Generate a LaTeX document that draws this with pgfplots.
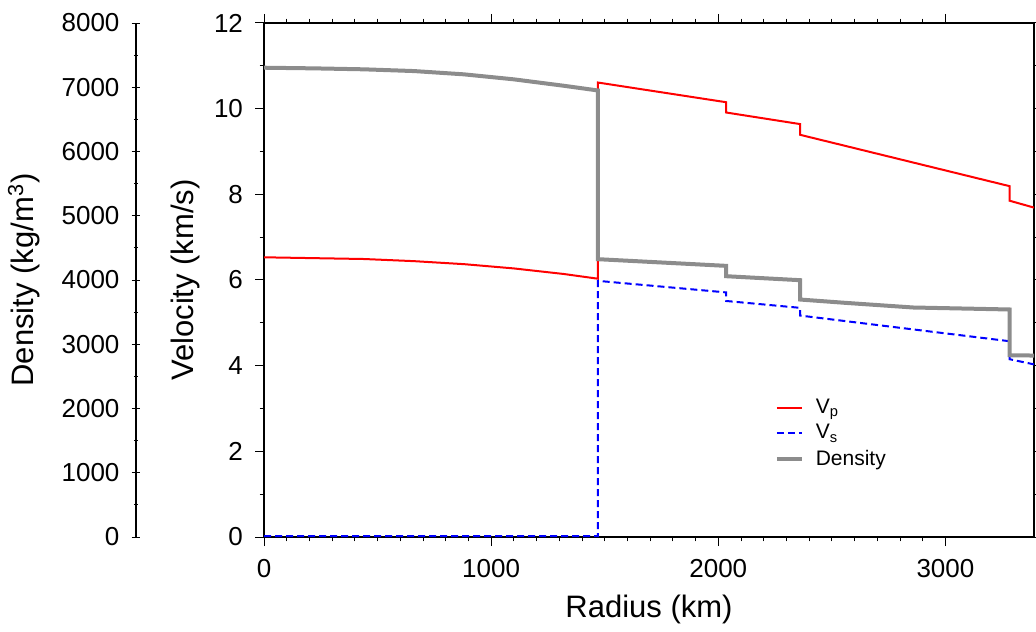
\documentclass[border=0pt]{standalone}
\usepackage{fontspec}
\setmainfont{Liberation Sans}
\usepackage{pgfplots}
\pgfplotsset{compat=1.18}
\definecolor{dgray}{RGB}{140,140,140}

\begin{document}
\begin{tikzpicture}
\useasboundingbox (0,0) rectangle (518pt,315.5pt);
\pgfplotsset{
 common/.style={scale only axis, height=257pt, ymin=0,
   tick label style={font=\fontsize{13}{15}\selectfont},
   yticklabel style={xshift=-2.5pt},
   xticklabel style={yshift=-3pt},
   /pgf/number format/assume math mode=true,
   /pgf/number format/1000 sep={},
   scaled ticks=false,
   major tick length=4.5pt, minor tick length=2.2pt,
   tick align=outside,
   every tick/.style={black, line width=0.5pt},
   axis line style={-, line width=0.6pt},
   label style={font=\fontsize{15.5}{18}\selectfont},
 }
}
% density tick axis
\begin{axis}[common, at={(68pt,47pt)}, anchor=south west, width=1pt,
  xmin=0, xmax=1, axis x line=none, axis y line=left,
  y axis line style={-},
  ymax=8000, ytick={0,1000,...,8000}, minor y tick num=1,
  ylabel={Density (kg/m\textsuperscript{3})},
  ylabel style={at={(rel axis cs:0,0.5)}, anchor=center, yshift=56pt}]
\end{axis}

% velocity axis
\begin{axis}[common, at={(132pt,47pt)}, anchor=south west, width=385pt,
  xmin=0, xmax=3390, ymax=12,
  xtick={0,1000,2000,3000}, minor x tick num=9,
  ytick={0,2,...,12}, minor y tick num=1,
  xlabel={Radius (km)}, ylabel={Velocity (km/s)},
  xlabel style={at={(rel axis cs:0.5,0)}, anchor=center, yshift=-36pt},
  ylabel style={at={(rel axis cs:0,0.5)}, anchor=center, yshift=39.5pt}]
\addplot[red, line width=1pt] coordinates {
 (0,6.53) (220,6.51) (440,6.49) (660,6.44) (880,6.37) (1100,6.27) (1320,6.14) (1470,6.03)
 (1470,10.61) (2035,10.15) (2035,9.91) (2360,9.64) (2360,9.39) (3283,8.19) (3283,7.85) (3390,7.69)
};
\addplot[blue, line width=1pt, dash pattern=on 3.5pt off 2pt] coordinates {
 (0,0.02) (1470,0.02) (1470,5.98) (2035,5.71) (2035,5.51) (2360,5.35) (2360,5.17) (3283,4.57) (3283,4.15) (3390,4.03)
};
\end{axis}

% density overlay
\begin{axis}[common, at={(132pt,47pt)}, anchor=south west, width=385pt,
  xmin=0, xmax=3390, ymax=8000, hide axis,
  legend image code/.code={\draw[#1] (0pt,0pt) -- (12.5pt,0pt);},
  legend cell align=left,
  legend style={draw=none, fill=none, at={(rel axis cs:0.655,0.285)}, anchor=north west,
    font=\fontsize{10.5}{12}\selectfont, row sep=0pt,
    /tikz/every odd column/.append style={column sep=4pt}}]
\addlegendimage{red, line width=1pt}
\addlegendentry{V\textsubscript{p}}
\addlegendimage{blue, line width=1pt, dash pattern=on 3.5pt off 2pt}
\addlegendentry{V\textsubscript{s}}
\addplot[dgray, line width=2pt] coordinates {
 (0,7304) (220,7294) (440,7279) (660,7252) (880,7201) (1100,7123) (1320,7023) (1470,6950)
 (1470,4324) (2035,4220) (2035,4059) (2360,3997) (2360,3696) (2565,3643) (2858,3572) (3283,3541)
 (3283,2829) (3390,2824)
};
\addlegendentry{Density}
\end{axis}
\end{tikzpicture}
\end{document}
